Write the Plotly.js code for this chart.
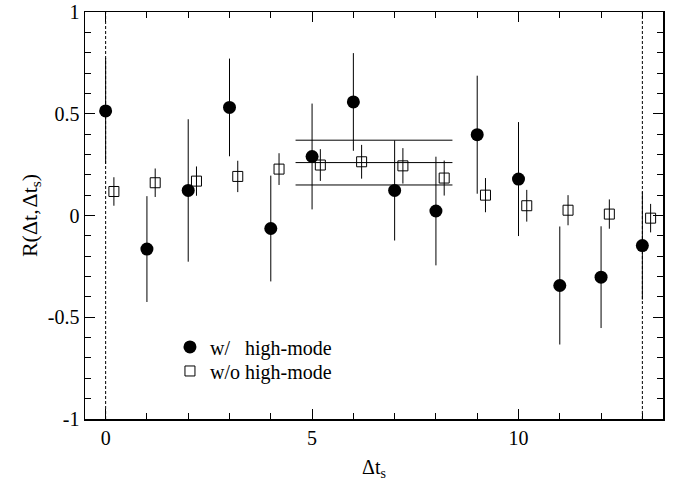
<!DOCTYPE html>
<html><head><meta charset="utf-8">
<script src="https://cdn.plot.ly/plotly-3.0.1.min.js"></script>
<style>body{margin:0;background:#fff}#c{width:681px;height:483px}</style>
</head><body><div id="c"></div>
<script>
const xWith = [0,1,2,3,4,5,6,7,8,9,10,11,12,13];
const yWith = [0.514,-0.165,0.123,0.531,-0.064,0.290,0.558,0.123,0.022,0.397,0.179,-0.344,-0.303,-0.148];
const eWith = [0.26,0.26,0.35,0.24,0.26,0.26,0.24,0.246,0.267,0.29,0.28,0.29,0.25,0.265];
const xWithout = [0.2,1.2,2.2,3.2,4.2,5.2,6.2,7.2,8.2,9.2,10.2,11.2,12.2,13.2];
const yWithout = [0.118,0.161,0.169,0.192,0.228,0.248,0.264,0.244,0.184,0.100,0.048,0.026,0.007,-0.013];
const eWithout = [0.07,0.07,0.072,0.077,0.078,0.078,0.083,0.087,0.086,0.084,0.078,0.074,0.072,0.07];
const fitRange = [4.6, 8.4];
const fitCenter = 0.26;
const fitErr = 0.11;
const boundaryLines = [0, 13];

const FAM = 'Liberation Serif';
const f = s => ({family: FAM, size: s, color: '#000'});
const traces = [];
[fitCenter - fitErr, fitCenter, fitCenter + fitErr].forEach(v => {
  traces.push({x: fitRange, y: [v, v], mode: 'lines', line: {color: '#000', width: 1}, showlegend: false, hoverinfo: 'skip'});
});
traces.push({
  x: xWith, y: yWith, mode: 'markers', name: 'w/\u00a0\u00a0\u00a0high-mode', legend: 'legend',
  marker: {symbol: 'circle', size: 13, color: '#000'},
  error_y: {type: 'data', array: eWith, color: '#000', thickness: 1, width: 0}
});
traces.push({
  x: xWithout, y: yWithout, mode: 'markers', name: 'w/o high-mode', legend: 'legend2',
  marker: {symbol: 'square-open', size: 10, color: '#000', line: {width: 1, color: '#000'}},
  error_y: {type: 'data', array: eWithout, color: '#000', thickness: 1, width: 0}
});

const shapes = boundaryLines.map(x => ({type: 'line', xref: 'x', yref: 'paper', x0: x, x1: x, y0: 0, y1: 1,
  line: {color: '#000', width: 1, dash: '3px,2px'}}));

const legBase = {xanchor: 'left', yanchor: 'middle', bgcolor: 'rgba(0,0,0,0)', font: f(20)};
const layout = {
  width: 681, height: 483,
  margin: {l: 85, r: 18, t: 12, b: 64},
  paper_bgcolor: '#fff', plot_bgcolor: '#fff',
  font: f(20),
  showlegend: true,
  legend: Object.assign({x: 0.147, y: 0.177}, legBase),
  legend2: Object.assign({x: 0.147, y: 0.118}, legBase),
  xaxis: {
    range: [-0.5, 13.5], tickvals: [0, 5, 10], ticktext: ['0', '5', '10'],
    ticks: 'inside', ticklen: 10, tickcolor: '#000', tickwidth: 1,
    minor: {dtick: 1, tick0: 0, ticks: 'inside', ticklen: 6, tickcolor: '#000'},
    showline: true, linecolor: '#000', linewidth: 1.5, mirror: 'allticks',
    showgrid: false, zeroline: false, tickfont: f(20),
    title: {text: 'Δt<sub>s</sub>', font: f(20), standoff: 12}
  },
  yaxis: {
    range: [-1, 1], tickvals: [-1, -0.5, 0, 0.5, 1], ticktext: ['-1', '-0.5', '0', '0.5', '1'],
    ticksuffix: '\u2004',
    ticks: 'inside', ticklen: 10, tickcolor: '#000', tickwidth: 1,
    minor: {dtick: 0.1, tick0: 0, ticks: 'inside', ticklen: 6, tickcolor: '#000'},
    showline: true, linecolor: '#000', linewidth: 1.5, mirror: 'allticks',
    showgrid: false, zeroline: false, tickfont: f(20),
    title: {text: 'R(Δt,\u200aΔt<sub>s</sub>)', font: f(22), standoff: 4}
  },
  shapes: shapes
};
Plotly.newPlot('c', traces, layout, {staticPlot: true});
</script></body></html>
